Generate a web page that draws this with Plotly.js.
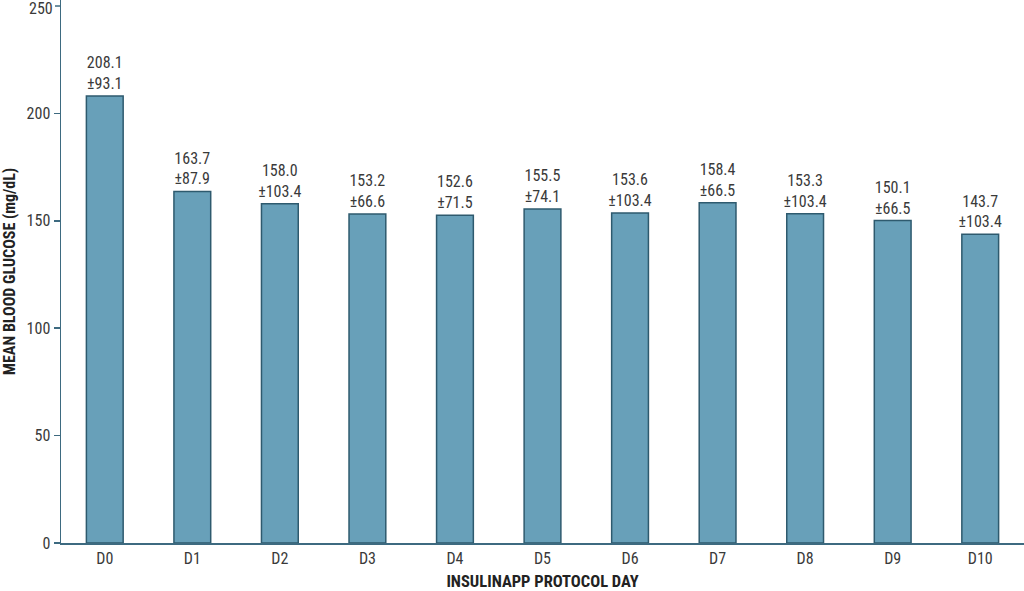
<!DOCTYPE html>
<html><head><meta charset="utf-8">
<script src="https://cdn.plot.ly/plotly-3.0.1.min.js"></script>
<style>html,body{margin:0;padding:0;background:#fff}#chart{width:1024px;height:591px}</style>
</head><body><div id="chart"></div>
<script>
const days = ["D0","D1","D2","D3","D4","D5","D6","D7","D8","D9","D10"];
const means = [208.1,163.7,158.0,153.2,152.6,155.5,153.6,158.4,153.3,150.1,143.7];
const sds = [93.1,87.9,103.4,66.6,71.5,74.1,103.4,66.5,103.4,66.5,103.4];
const yTicks = [0,50,100,150,200,250];
const yMax = 250;

const FONT = '"Liberation Sans Narrow", "Roboto Condensed", "Liberation Sans", sans-serif';
const labels = means.map((m,i)=> m.toFixed(1) + '<br>±' + sds[i].toFixed(1));

Plotly.newPlot('chart', [{
  type:'bar', x:days, y:means,
  marker:{color:'#68a0b9', line:{color:'#2e5a6e', width:1.5}},
  text:labels, textposition:'outside', cliponaxis:false, constraintext:'none',
  textfont:{family:FONT, size:16, color:'#3a3a3a'},
  hoverinfo:'none'
}], {
  width:1024, height:591,
  margin:{l:61, r:0, t:0, b:48},
  paper_bgcolor:'#fff', plot_bgcolor:'#fff',
  bargap:0.58,
  showlegend:false,
  font:{family:FONT, color:'#3a3a3a'},
  xaxis:{
    showline:true, linecolor:'#3d6a80', linewidth:1.5,
    ticks:'', showgrid:false, zeroline:false,
    tickfont:{family:FONT, size:16, color:'#3a3a3a'},
    title:{text:'<b>INSULINAPP PROTOCOL DAY</b>', font:{family:FONT, size:16.5, color:'#222'}, standoff:12}
  },
  yaxis:{
    range:[0,252.8], tickmode:'array', tickvals:yTicks.filter(v=>v<yMax),
    showline:true, linecolor:'#3d6a80', linewidth:1.5,
    ticks:'outside', ticklen:6, tickcolor:'#3d6a80', tickwidth:1.5,
    showgrid:false, zeroline:false,
    tickfont:{family:FONT, size:16, color:'#3a3a3a'},
    title:{text:'<b>MEAN BLOOD GLUCOSE (mg/dL)</b>', font:{family:FONT, size:16, color:'#222'}, standoff:8}
  },
  annotations:[{
    xref:'paper', yref:'y', x:0, y:yMax, text:String(yMax), showarrow:false,
    xanchor:'right', yanchor:'top', xshift:-7, yshift:8, borderpad:0,
    font:{family:FONT, size:16, color:'#3a3a3a'}
  }],
  shapes:[{
    type:'line', xref:'paper', xsizemode:'pixel', xanchor:0, x0:-6, x1:0,
    yref:'y', y0:yMax, y1:yMax, line:{color:'#3d6a80', width:1.5}
  }]
}, {displayModeBar:false, staticPlot:true});
</script></body></html>
